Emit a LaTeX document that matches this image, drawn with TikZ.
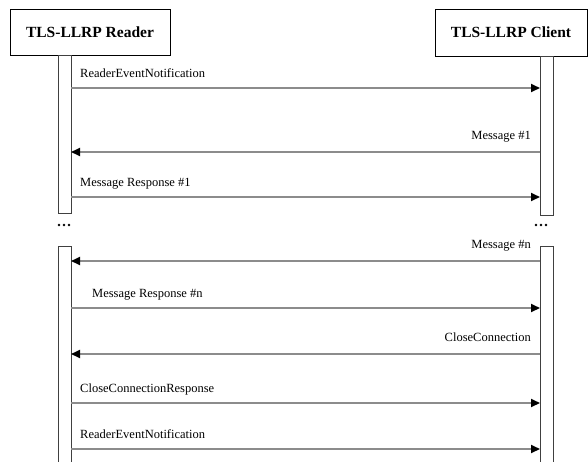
\documentclass[tikz,border=0pt]{standalone}
\usepackage{fontspec}
\setmainfont{Liberation Serif}
\usetikzlibrary{arrows.meta}
\tikzset{
  actor/.style={draw=black, line width=0.9pt, fill=white, inner sep=0pt,
    font=\fontsize{15.5}{17}\selectfont\bfseries},
  actbar/.style={draw=black!75, line width=0.9pt, fill=white},
  msg/.style={draw=black!45, line width=1.8pt,
    -{Triangle[length=9pt,width=8pt,fill=black,color=black]}},
  lbl/.style={inner sep=0pt, font=\fontsize{12.5}{14}\selectfont},
  gapdot/.style={fill=black, circle, inner sep=0pt, minimum size=2.6pt}
}
\begin{document}
\begin{tikzpicture}[x=1pt, y=-1pt]
\useasboundingbox[fill=white] (0,0) rectangle (588,461);

% participants
\node[actor, minimum width=160pt, minimum height=46pt] (reader) at (90,32) {TLS-LLRP Reader};
\node[actor, minimum width=152pt, minimum height=47pt] (client) at (511,32.5) {TLS-LLRP Client};

% activation bars, first block
\draw[actbar] (58,55) rectangle (71,213);
\draw[actbar] (540,56) rectangle (553,215);
\coordinate (r1) at (71,0);
\coordinate (c1) at (540,0);

% continuation dots
\foreach \x in {59,64,69} \node[gapdot] (rd\x) at (\x,225) {};
\foreach \x in {536,541,546} \node[gapdot] (cd\x) at (\x,225) {};

% activation bars, second block (open at the bottom)
\draw[actbar] (58,470) -- (58,246) -- (71,246) -- (71,470);
\draw[actbar] (540,470) -- (540,246) -- (553,246) -- (553,470);

% messages: reader -> client
\foreach \y/\t/\xo in {88/ReaderEventNotification/80,
                        197/Message Response \#1/80,
                        308/Message Response \#n/92,
                        403/CloseConnectionResponse/80,
                        449/ReaderEventNotification/80} {
  \coordinate (a) at (r1 |- 0,\y);
  \coordinate (b) at (c1 |- 0,\y);
  \draw[msg] (a) -- (b);
  \node[lbl, anchor=base west] (t) at (\xo,\y-11) {\t};
}

% messages: client -> reader
\foreach \y/\t in {152/Message \#1, 261/Message \#n, 354/CloseConnection} {
  \coordinate (a) at (c1 |- 0,\y);
  \coordinate (b) at (r1 |- 0,\y);
  \draw[msg] (a) -- (b);
  \node[lbl, anchor=base east] (t) at (531,\y-13) {\t};
}
\end{tikzpicture}
\end{document}
